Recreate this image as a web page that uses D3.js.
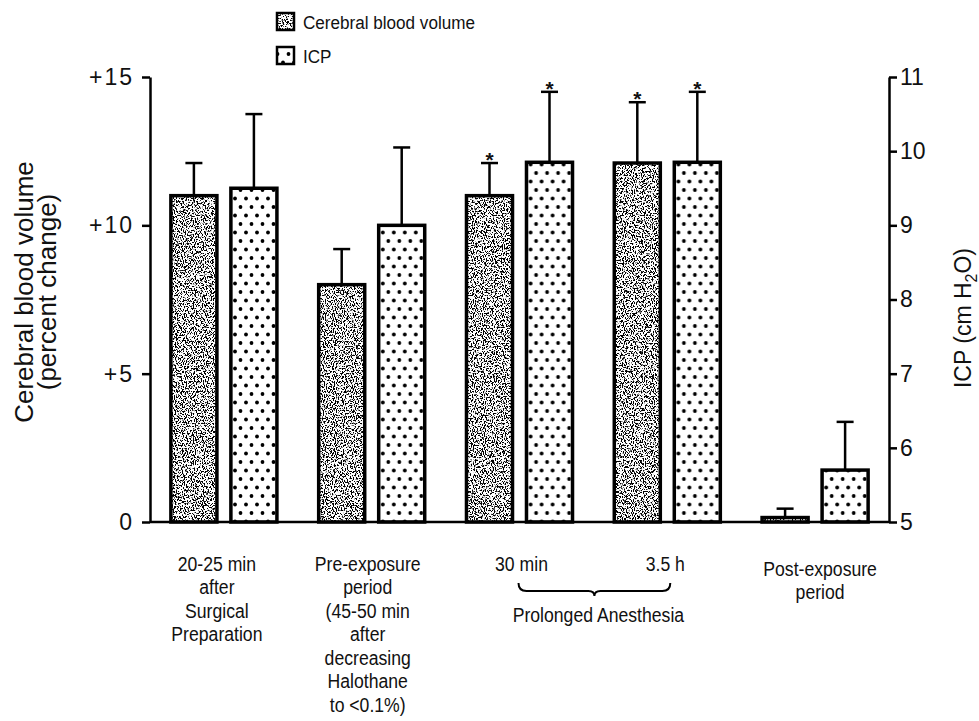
<!DOCTYPE html>
<html>
<head>
<meta charset="utf-8">
<script src="https://cdn.jsdelivr.net/npm/d3@7"></script>
<style>
  body { margin: 0; background: #fff; }
  text { fill: #111; }
</style>
</head>
<body>
<svg width="979" height="721"></svg>
<script>
// periods along the x axis
const periods = ['surgical', 'preExposure', 'anesth30', 'anesth35', 'postExposure'];
const periodLines = [
  ['20-25 min', 'after', 'Surgical', 'Preparation'],
  ['Pre-exposure', 'period', '(45-50 min', 'after', 'decreasing', 'Halothane', 'to <0.1%)'],
  ['30 min'],
  ['3.5 h'],
  ['Post-exposure', 'period']
];
const bracketLabel = 'Prolonged Anesthesia';

// cerebral blood volume, percent change (left axis)
const cbv = [11.0, 8.0, 11.0, 12.1, 0.15];
const cbvErr = [1.1, 1.2, 1.1, 2.05, 0.3];
// ICP, cm H2O (right axis)
const icp = [9.5, 9.0, 9.85, 9.85, 5.7];
const icpErr = [1.0, 1.05, 0.95, 0.95, 0.65];
// significant difference marks
const starred = [false, false, true, true, false];

const leftTicks = [0, 5, 10, 15];
const rightTicks = [5, 6, 7, 8, 9, 10, 11];
const seriesKeys = ['cbv', 'icp'];
const seriesNames = ['Cerebral blood volume', 'ICP'];

const svg = d3.select('svg');
const font = '"Liberation Sans", Arial, Helvetica, sans-serif';

const plotLeft = 150, plotRight = 889, plotTop = 77, plotBottom = 522;

const yL = d3.scaleLinear().domain([0, 15]).range([plotBottom, plotTop]);
const yR = d3.scaleLinear().domain([5, 11]).range([plotBottom, plotTop]);

const x0 = d3.scaleBand().domain(periods).range([plotLeft, plotRight]);
const x1 = d3.scaleBand().domain(seriesKeys)
  .range([0, x0.bandwidth()])
  .paddingInner(0.233)
  .paddingOuter(0.348);

// textures
const defs = svg.append('defs');
const dots = defs.append('pattern')
  .attr('id', 'dots')
  .attr('patternUnits', 'userSpaceOnUse')
  .attr('width', 11).attr('height', 17);
dots.append('rect').attr('width', 11).attr('height', 17).attr('fill', '#fff');
dots.append('circle').attr('cx', 2.5).attr('cy', 3).attr('r', 1.9).attr('fill', '#000');
dots.append('circle').attr('cx', 8).attr('cy', 11.5).attr('r', 1.9).attr('fill', '#000');

const speckle = defs.append('filter')
  .attr('id', 'speckle')
  .attr('x', 0).attr('y', 0).attr('width', 1).attr('height', 1);
speckle.append('feTurbulence')
  .attr('type', 'fractalNoise')
  .attr('baseFrequency', '0.9 0.6')
  .attr('numOctaves', 2)
  .attr('seed', 7)
  .attr('result', 'noise');
speckle.append('feColorMatrix')
  .attr('in', 'noise')
  .attr('type', 'matrix')
  .attr('values', '0 0 0 0 0  0 0 0 0 0  0 0 0 0 0  14 0 0 0 -7.1')
  .attr('result', 'spots');
speckle.append('feComposite')
  .attr('in', 'spots')
  .attr('in2', 'SourceGraphic')
  .attr('operator', 'in');

function texturedRect(g, x, y, w, h, key, sw) {
  if (key === 'cbv') {
    g.append('rect').attr('x', x).attr('y', y).attr('width', w).attr('height', h).attr('fill', '#fff');
    g.append('rect').attr('x', x).attr('y', y).attr('width', w).attr('height', h)
      .attr('fill', '#000').attr('filter', 'url(#speckle)');
  } else {
    g.append('rect').attr('x', x).attr('y', y).attr('width', w).attr('height', h).attr('fill', 'url(#dots)');
  }
  g.append('rect').attr('x', x).attr('y', y).attr('width', w).attr('height', h)
    .attr('fill', 'none').attr('stroke', '#000').attr('stroke-width', sw);
}

// bars
const rows = periods.map((p, i) => ({
  period: p,
  star: starred[i],
  bars: [
    {key: 'cbv', v: cbv[i], e: cbvErr[i], y: yL, base: 0},
    {key: 'icp', v: icp[i], e: icpErr[i], y: yR, base: 5}
  ]
}));

const groups = svg.append('g').selectAll('g')
  .data(rows)
  .join('g')
  .attr('transform', d => `translate(${x0(d.period)},0)`);

groups.each(function (d) {
  const g = d3.select(this);
  d.bars.forEach(b => {
    const bx = x1(b.key), bw = x1.bandwidth();
    const yTop = b.y(b.v), yBase = b.y(b.base), yCap = b.y(b.v + b.e);
    texturedRect(g, bx, yTop, bw, yBase - yTop, b.key, 3.5);
    const cx = bx + bw / 2;
    g.append('line').attr('x1', cx).attr('x2', cx).attr('y1', yTop).attr('y2', yCap)
      .attr('stroke', '#000').attr('stroke-width', 2.5);
    g.append('line').attr('x1', cx - 8.5).attr('x2', cx + 8.5).attr('y1', yCap).attr('y2', yCap)
      .attr('stroke', '#000').attr('stroke-width', 2.5);
    if (d.star) {
      g.append('text').attr('x', cx).attr('y', yCap + 4)
        .attr('text-anchor', 'middle')
        .style('font-family', font).style('font-size', '21px').style('font-weight', 'bold')
        .text('*');
    }
  });
});

// axes
const axL = svg.append('g')
  .attr('transform', `translate(${plotLeft},0)`)
  .call(d3.axisLeft(yL).tickValues(leftTicks).tickSize(8).tickSizeOuter(0).tickPadding(8)
    .tickFormat(d => d === 0 ? '0' : '+' + d));
const axR = svg.append('g')
  .attr('transform', `translate(${plotRight},0)`)
  .call(d3.axisRight(yR).tickValues(rightTicks).tickSize(8).tickSizeOuter(0).tickPadding(3)
    .tickFormat(d3.format('d')));

[axL, axR].forEach(ax => {
  ax.select('.domain').attr('stroke', '#000').attr('stroke-width', 2.5);
  ax.selectAll('.tick line').attr('stroke', '#000').attr('stroke-width', 2.5);
  ax.selectAll('.tick text')
    .style('font-family', font).style('font-size', '23px').attr('fill', '#111');
});
axL.selectAll('.tick text').style('letter-spacing', '2px');

// baseline
svg.append('line')
  .attr('x1', plotLeft).attr('x2', plotRight)
  .attr('y1', yL(0)).attr('y2', yL(0))
  .attr('stroke', '#000').attr('stroke-width', 2.5);

// axis titles
const lt = svg.append('text')
  .attr('transform', `translate(33,292) rotate(-90)`)
  .attr('text-anchor', 'middle')
  .style('font-family', font).style('font-size', '26px');
lt.append('tspan').attr('x', 0).attr('y', 0).text('Cerebral blood volume');
lt.append('tspan').attr('x', 0).attr('y', 23).text('(percent change)');

const rt = svg.append('text')
  .attr('transform', `translate(971,318) rotate(-90)`)
  .attr('text-anchor', 'middle')
  .style('font-family', font).style('font-size', '23px');
rt.append('tspan').text('ICP (cm H');
rt.append('tspan').attr('dy', 6).style('font-size', '16px').text('2');
rt.append('tspan').attr('dy', -6).text('O)');

// x labels, condensed
const labelDx = [-7, -4, 2, -2, 5];
const labelDy = [0, 0, 0, 0, 5];
periods.forEach((p, i) => {
  const cx = x0(p) + x0.bandwidth() / 2 + labelDx[i];
  const t = svg.append('text')
    .attr('transform', `translate(${cx},${571 + labelDy[i]}) scale(0.84,1)`)
    .attr('text-anchor', 'middle')
    .style('font-family', font).style('font-size', '21px');
  periodLines[i].forEach((line, j) => {
    t.append('tspan').attr('x', 0).attr('y', j * 23.5).text(line);
  });
});

// brace under the two anesthesia periods
const bx1 = x0('anesth30') + x0.bandwidth() / 2 - 1;
const bx2 = x0('anesth35') + x0.bandwidth() / 2 + 3;
const bm = (bx1 + bx2) / 2;
const by = 591;
const brace = d3.path();
brace.moveTo(bx1, by - 8);
brace.quadraticCurveTo(bx1, by, bx1 + 8, by);
brace.lineTo(bm - 6, by);
brace.quadraticCurveTo(bm, by, bm, by + 5);
brace.quadraticCurveTo(bm, by, bm + 6, by);
brace.lineTo(bx2 - 8, by);
brace.quadraticCurveTo(bx2, by, bx2, by - 8);
svg.append('path').attr('d', brace.toString())
  .attr('fill', 'none').attr('stroke', '#000').attr('stroke-width', 2);
svg.append('text')
  .attr('transform', `translate(${bm + 4},622) scale(0.84,1)`)
  .attr('text-anchor', 'middle')
  .style('font-family', font).style('font-size', '21px')
  .text(bracketLabel);

// legend
const legend = svg.append('g');
seriesKeys.forEach((k, i) => {
  const g = legend.append('g');
  texturedRect(g, 277, 13 + i * 34, 17, 17, k, 2.5);
  g.append('text')
    .attr('transform', `translate(303,${29 + i * 34}) scale(0.9,1)`)
    .style('font-family', font).style('font-size', '19px')
    .text(seriesNames[i]);
});
</script>
</body>
</html>
